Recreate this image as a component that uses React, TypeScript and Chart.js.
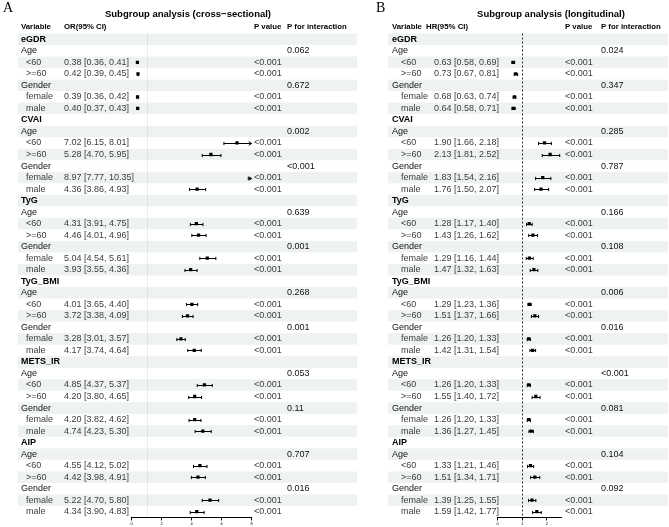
import React, { useEffect, useRef } from 'react';
import { Chart, registerables } from 'chart.js';

Chart.register(...registerables);

// ---- data -------------------------------------------------------------
const groupNames = ['eGDR', 'CVAI', 'TyG', 'TyG_BMI', 'METS_IR', 'AIP'];
const subgroupLabels = ['<60', '>=60', 'female', 'male'];

// Cross-sectional odds ratios (4 subgroups per index, in subgroupLabels order)
const orEst = [
  0.38, 0.42, 0.39, 0.40,
  7.02, 5.28, 8.97, 4.36,
  4.31, 4.46, 5.04, 3.93,
  4.01, 3.72, 3.28, 4.17,
  4.85, 4.20, 4.20, 4.74,
  4.55, 4.42, 5.22, 4.34,
];
const orLow = [
  0.36, 0.39, 0.36, 0.37,
  6.15, 4.70, 7.77, 3.86,
  3.91, 4.01, 4.54, 3.55,
  3.65, 3.38, 3.01, 3.74,
  4.37, 3.80, 3.82, 4.23,
  4.12, 3.98, 4.70, 3.90,
];
const orHigh = [
  0.41, 0.45, 0.42, 0.43,
  8.01, 5.95, 10.35, 4.93,
  4.75, 4.96, 5.61, 4.36,
  4.40, 4.09, 3.57, 4.64,
  5.37, 4.65, 4.62, 5.30,
  5.02, 4.91, 5.80, 4.83,
];
const orP = [
  '<0.001', '<0.001', '<0.001', '<0.001',
  '<0.001', '<0.001', '<0.001', '<0.001',
  '<0.001', '<0.001', '<0.001', '<0.001',
  '<0.001', '<0.001', '<0.001', '<0.001',
  '<0.001', '<0.001', '<0.001', '<0.001',
  '<0.001', '<0.001', '<0.001', '<0.001',
];
const orPIntAge = ['0.062', '0.002', '0.639', '0.268', '0.053', '0.707'];
const orPIntGender = ['0.672', '<0.001', '0.001', '0.001', '0.11', '0.016'];
const orTicks = [0, 2, 4, 6, 8];

// Longitudinal hazard ratios
const hrEst = [
  0.63, 0.73, 0.68, 0.64,
  1.90, 2.13, 1.83, 1.76,
  1.28, 1.43, 1.29, 1.47,
  1.29, 1.51, 1.26, 1.42,
  1.26, 1.55, 1.26, 1.36,
  1.33, 1.51, 1.39, 1.59,
];
const hrLow = [
  0.58, 0.67, 0.63, 0.58,
  1.66, 1.81, 1.54, 1.50,
  1.17, 1.26, 1.16, 1.32,
  1.23, 1.37, 1.20, 1.31,
  1.20, 1.40, 1.20, 1.27,
  1.21, 1.34, 1.25, 1.42,
];
const hrHigh = [
  0.69, 0.81, 0.74, 0.71,
  2.18, 2.52, 2.16, 2.07,
  1.40, 1.62, 1.44, 1.63,
  1.36, 1.66, 1.33, 1.54,
  1.33, 1.72, 1.33, 1.45,
  1.46, 1.71, 1.55, 1.77,
];
const hrP = [
  '<0.001', '<0.001', '<0.001', '<0.001',
  '<0.001', '<0.001', '<0.001', '<0.001',
  '<0.001', '<0.001', '<0.001', '<0.001',
  '<0.001', '<0.001', '<0.001', '<0.001',
  '<0.001', '<0.001', '<0.001', '<0.001',
  '<0.001', '<0.001', '<0.001', '<0.001',
];
const hrPIntAge = ['0.024', '0.285', '0.166', '0.006', '<0.001', '0.104'];
const hrPIntGender = ['0.347', '0.787', '0.108', '0.016', '0.081', '0.092'];
const hrTicks = [0, 1, 2];

// ---- layout helpers ---------------------------------------------------
const SANS = '"Liberation Sans", Arial, Helvetica, sans-serif';
const SERIF = '"Liberation Serif", "Times New Roman", serif';
const BAND = '#eff2f3';
const H = 527;

type Row =
  | { kind: 'group'; label: string }
  | { kind: 'factor'; label: string; pint: string }
  | { kind: 'sub'; label: string; k: number };

function buildRows(pAge: string[], pGender: string[]): Row[] {
  const rows: Row[] = [];
  groupNames.forEach((g, gi) => {
    rows.push({ kind: 'group', label: g });
    rows.push({ kind: 'factor', label: 'Age', pint: pAge[gi] });
    rows.push({ kind: 'sub', label: subgroupLabels[0], k: gi * 4 });
    rows.push({ kind: 'sub', label: subgroupLabels[1], k: gi * 4 + 1 });
    rows.push({ kind: 'factor', label: 'Gender', pint: pGender[gi] });
    rows.push({ kind: 'sub', label: subgroupLabels[2], k: gi * 4 + 2 });
    rows.push({ kind: 'sub', label: subgroupLabels[3], k: gi * 4 + 3 });
  });
  return rows;
}

interface Panel {
  letter: string;
  title: string;
  effectHeader: string;
  est: number[];
  low: number[];
  high: number[];
  p: string[];
  rows: Row[];
  xMax: number;
  ticks: number[];
  refColor: string;
  refDash: number[];
  canvasLeft: number;
  canvasWidth: number;
  plotLeft: number;
  plotRight: number;
  bandLeft: number;
  bandRight: number;
  letterX: number;
  titleX: number;
  colVar: number;
  colSub: number;
  colCIHead: number;
  colCI: number;
  colP: number;
  colPInt: number;
}

const panelA: Panel = {
  letter: 'A',
  title: 'Subgroup analysis (cross\u2212sectional)',
  effectHeader: 'OR(95% CI)',
  est: orEst,
  low: orLow,
  high: orHigh,
  p: orP,
  rows: buildRows(orPIntAge, orPIntGender),
  xMax: 8,
  ticks: orTicks,
  refColor: 'rgba(0,0,0,0.07)',
  refDash: [],
  canvasLeft: 0,
  canvasWidth: 362,
  plotLeft: 131.7,
  plotRight: 251.7,
  bandLeft: 18,
  bandRight: 357,
  letterX: 3,
  titleX: 188,
  colVar: 21,
  colSub: 26,
  colCIHead: 64,
  colCI: 64,
  colP: 254,
  colPInt: 287,
};

const panelB: Panel = {
  letter: 'B',
  title: 'Subgroup analysis (longitudinal)',
  effectHeader: 'HR(95% CI)',
  est: hrEst,
  low: hrLow,
  high: hrHigh,
  p: hrP,
  rows: buildRows(hrPIntAge, hrPIntGender),
  xMax: 2.6,
  ticks: hrTicks,
  refColor: '#333',
  refDash: [2, 2],
  canvasLeft: 362,
  canvasWidth: 307,
  plotLeft: 497.7,
  plotRight: 561.7,
  bandLeft: 388,
  bandRight: 668,
  letterX: 376,
  titleX: 551,
  colVar: 392,
  colSub: 401,
  colCIHead: 426,
  colCI: 434,
  colP: 565,
  colPInt: 601,
};

// ---- plugin: table text, row bands, CI whiskers -----------------------
const forestPlugin = {
  id: 'forestDecor',
  beforeDraw(chart: any, _args: any, opts: any) {
    const cfg: Panel = opts.panel;
    const { ctx } = chart;
    const y = chart.scales.y;
    const off = cfg.canvasLeft;
    ctx.save();
    ctx.fillStyle = '#ffffff';
    ctx.fillRect(0, 0, chart.width, chart.height);
    cfg.rows.forEach((_r, i) => {
      if (i % 2 !== 0) return;
      const t = y.getPixelForValue(i - 0.5);
      const b = y.getPixelForValue(i + 0.5);
      ctx.fillStyle = BAND;
      ctx.fillRect(cfg.bandLeft - off, t, cfg.bandRight - cfg.bandLeft, b - t);
    });
    ctx.restore();
  },
  beforeDatasetsDraw(chart: any, _args: any, opts: any) {
    const cfg: Panel = opts.panel;
    const { ctx, chartArea } = chart;
    const x = chart.scales.x;
    const y = chart.scales.y;
    ctx.save();
    // reference line at 1
    const xr = Math.round(x.getPixelForValue(1)) + 0.5;
    ctx.strokeStyle = cfg.refColor;
    ctx.lineWidth = 1;
    ctx.setLineDash(cfg.refDash);
    ctx.beginPath();
    ctx.moveTo(xr, chartArea.top);
    ctx.lineTo(xr, chartArea.bottom);
    ctx.stroke();
    ctx.setLineDash([]);

    // confidence intervals
    ctx.strokeStyle = '#000';
    ctx.lineWidth = 1;
    cfg.rows.forEach((r, i) => {
      if (r.kind !== 'sub') return;
      const lo = cfg.low[r.k];
      const hi = cfg.high[r.k];
      const yc = Math.round(y.getPixelForValue(i)) + 0.5;
      const xl = x.getPixelForValue(Math.max(lo, 0));
      const clipped = hi > cfg.xMax;
      const xh = x.getPixelForValue(Math.min(hi, cfg.xMax));
      ctx.beginPath();
      ctx.moveTo(xl, yc);
      ctx.lineTo(xh, yc);
      // left cap
      ctx.moveTo(xl, yc - 1.6);
      ctx.lineTo(xl, yc + 1.6);
      if (clipped) {
        ctx.moveTo(xh - 3, yc - 1.8);
        ctx.lineTo(xh, yc);
        ctx.lineTo(xh - 3, yc + 1.8);
      } else {
        ctx.moveTo(xh, yc - 1.6);
        ctx.lineTo(xh, yc + 1.6);
      }
      ctx.stroke();
    });
    ctx.restore();
  },
  afterDraw(chart: any, _args: any, opts: any) {
    const cfg: Panel = opts.panel;
    const { ctx } = chart;
    const y = chart.scales.y;
    const off = cfg.canvasLeft;
    const tx = (v: number) => v - off;
    ctx.save();
    ctx.textBaseline = 'middle';
    ctx.textAlign = 'left';

    // panel letter
    ctx.fillStyle = '#000';
    ctx.font = `14px ${SERIF}`;
    ctx.fillText(cfg.letter, tx(cfg.letterX), 8);

    // title
    ctx.font = `bold 9.5px ${SANS}`;
    ctx.textAlign = 'center';
    ctx.fillText(cfg.title, tx(cfg.titleX), 14);
    ctx.textAlign = 'left';

    // column headers
    ctx.font = `bold 7.8px ${SANS}`;
    const hy = 26.5;
    ctx.fillText('Variable', tx(cfg.colVar), hy);
    ctx.fillText(cfg.effectHeader, tx(cfg.colCIHead), hy);
    ctx.fillText('P value', tx(cfg.colP), hy);
    ctx.fillText('P for interaction', tx(cfg.colPInt), hy);

    // table body
    cfg.rows.forEach((r, i) => {
      const yc = y.getPixelForValue(i);
      if (r.kind === 'group') {
        ctx.font = `bold 9px ${SANS}`;
        ctx.fillStyle = '#000';
        ctx.fillText(r.label, tx(cfg.colVar), yc);
      } else if (r.kind === 'factor') {
        ctx.font = `9px ${SANS}`;
        ctx.fillStyle = '#111';
        ctx.fillText(r.label, tx(cfg.colVar), yc);
        ctx.fillText(r.pint, tx(cfg.colPInt), yc);
      } else {
        ctx.font = `9px ${SANS}`;
        ctx.fillStyle = '#3c3c3c';
        const k = r.k;
        const ci = `${cfg.est[k].toFixed(2)} [${cfg.low[k].toFixed(2)}, ${cfg.high[k].toFixed(2)}]`;
        ctx.fillText(r.label, tx(cfg.colSub), yc);
        ctx.fillText(ci, tx(cfg.colCI), yc);
        ctx.fillText(cfg.p[k], tx(cfg.colP), yc);
      }
    });
    ctx.restore();
  },
};

function makeChart(canvas: HTMLCanvasElement, cfg: Panel) {
  const points: { x: number; y: number }[] = [];
  cfg.rows.forEach((r, i) => {
    if (r.kind === 'sub') points.push({ x: cfg.est[r.k], y: i });
  });
  return new Chart(canvas, {
    type: 'scatter',
    data: {
      datasets: [
        {
          data: points,
          pointStyle: 'rect',
          pointRadius: 2.3,
          pointBorderWidth: 0,
          backgroundColor: '#000',
          borderColor: '#000',
          clip: 0,
        } as any,
      ],
    },
    options: {
      animation: false,
      responsive: false,
      events: [],
      layout: {
        padding: {
          left: cfg.plotLeft - cfg.canvasLeft,
          right: cfg.canvasLeft + cfg.canvasWidth - cfg.plotRight,
          top: 33.5,
          bottom: 0.5,
        },
      },
      plugins: {
        legend: { display: false },
        tooltip: { enabled: false },
        forestDecor: { panel: cfg },
      } as any,
      scales: {
        x: {
          type: 'linear',
          min: 0,
          max: cfg.xMax,
          afterBuildTicks: (axis: any) => {
            axis.ticks = cfg.ticks.map((v) => ({ value: v }));
          },
          afterFit: (scale: any) => {
            scale.height = 9;
          },
          grid: {
            display: true,
            drawOnChartArea: false,
            drawTicks: true,
            tickLength: 3,
            color: '#000',
            lineWidth: 1,
          },
          border: { display: true, color: '#000', width: 1 },
          ticks: {
            font: { size: 4, family: SANS },
            color: '#000',
            padding: 1,
            maxRotation: 0,
            autoSkip: false,
          },
        },
        y: {
          type: 'linear',
          min: -0.5,
          max: cfg.rows.length - 0.5,
          reverse: true,
          display: false,
        },
      },
    },
    plugins: [forestPlugin],
  });
}

export default function App() {
  const refA = useRef<HTMLCanvasElement>(null);
  const refB = useRef<HTMLCanvasElement>(null);

  useEffect(() => {
    const charts: Chart[] = [];
    if (refA.current) charts.push(makeChart(refA.current, panelA));
    if (refB.current) charts.push(makeChart(refB.current, panelB));
    return () => charts.forEach((c) => c.destroy());
  }, []);

  return (
    <div
      style={{
        position: 'absolute',
        left: 0,
        top: 0,
        width: 669,
        height: H,
        background: '#fff',
        overflow: 'hidden',
      }}
    >
      <canvas
        ref={refA}
        width={panelA.canvasWidth}
        height={H}
        style={{ position: 'absolute', left: panelA.canvasLeft, top: 0, width: panelA.canvasWidth, height: H }}
      />
      <canvas
        ref={refB}
        width={panelB.canvasWidth}
        height={H}
        style={{ position: 'absolute', left: panelB.canvasLeft, top: 0, width: panelB.canvasWidth, height: H }}
      />
    </div>
  );
}
